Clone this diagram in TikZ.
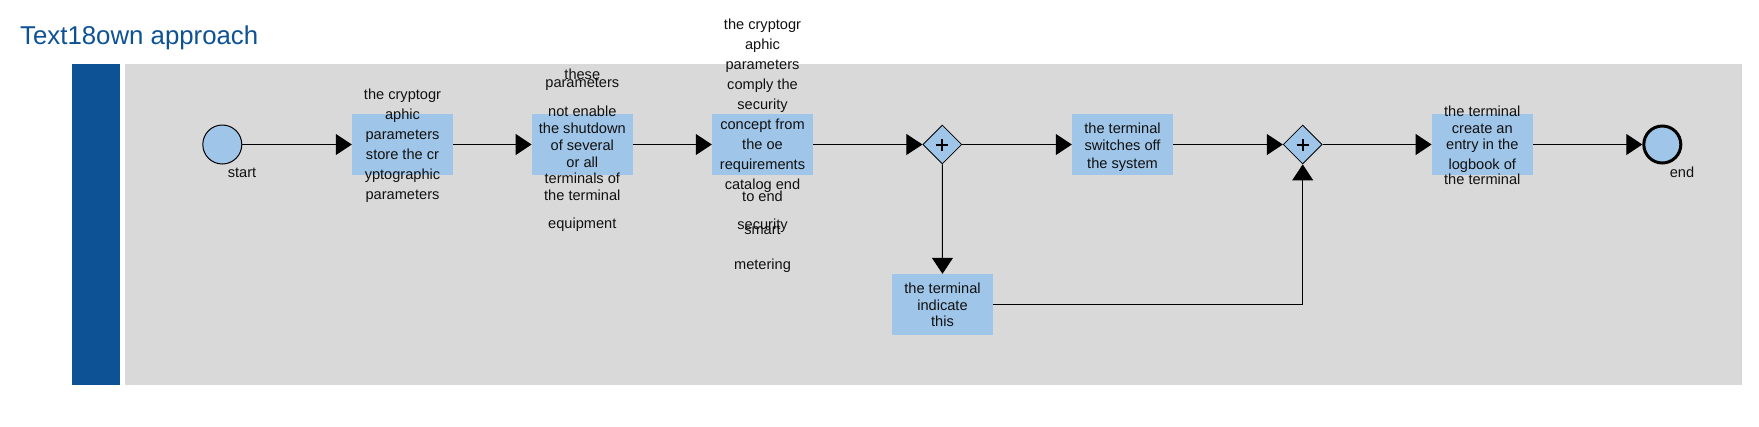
\documentclass[tikz,border=0pt]{standalone}
\usepackage{fontspec}
\setmainfont{Liberation Sans}
\usetikzlibrary{arrows.meta,shapes.geometric}
\definecolor{lane}{HTML}{D9D9D9}
\definecolor{bar}{HTML}{0D5294}
\definecolor{taskfill}{HTML}{9FC5E8}
\definecolor{titleblue}{HTML}{0D5294}
\definecolor{ink}{HTML}{111111}
\tikzset{
 task/.style={rectangle, fill=taskfill, minimum width=101pt, minimum height=61pt, inner sep=0pt},
 txt/.style={anchor=base, inner sep=0pt, font=\fontsize{14.6}{16}\selectfont, text=ink},
 evt/.style={circle, draw=black, fill=taskfill, inner sep=0pt},
 gw/.style={diamond, draw=black, fill=taskfill, minimum width=39pt, minimum height=39pt, inner sep=0pt, line width=0.8pt},
 flow/.style={draw=black, line width=1pt, -{Triangle[length=16pt,width=21pt]}},
 plusbar/.style={line width=2pt},
}
\begin{document}
\begin{tikzpicture}[x=1pt,y=-1pt]
\useasboundingbox (0,0) rectangle (1759,426);
\fill[white] (0,0) rectangle (1759,426);
\node[anchor=base west, inner sep=0pt, text=titleblue, font=\fontsize{25.8}{30}\selectfont] (title) at (20,44.5) {Text18own approach};
\fill[bar] (72,64) rectangle (120,385);
\fill[lane] (125,64) rectangle (1742,385);

% events
\node[evt, minimum size=39pt, line width=1pt] (start) at (222.3,144.5) {};
\node[evt, minimum size=37pt, line width=3pt] (end) at (1662.3,144.5) {};
\node[txt] (startlbl) at (242,177) {start};
\node[txt] (endlbl) at (1682,177) {end};

% tasks
\node[task] (t1) at (402.5,144.5) {};
\node[task] (t2) at (582.3,144.5) {};
\node[task] (t3) at (762.5,144.5) {};
\node[task] (t4) at (1122.5,144.5) {};
\node[task] (t5) at (942.5,304.5) {};
\node[task] (t6) at (1482.3,144.5) {};

% gateways
\node[gw] (g1) at (942.3,144.5) {};
\node[gw] (g2) at (1302.7,144.5) {};
\draw[plusbar] ([xshift=-6pt]g1.center) -- ([xshift=6pt]g1.center);
\draw[plusbar] ([yshift=-6pt]g1.center) -- ([yshift=6pt]g1.center);
\draw[plusbar] ([xshift=-6pt]g2.center) -- ([xshift=6pt]g2.center);
\draw[plusbar] ([yshift=-6pt]g2.center) -- ([yshift=6pt]g2.center);

% connectors
\draw[flow] (start) -- (t1);
\draw[flow] (t1) -- (t2);
\draw[flow] (t2) -- (t3);
\draw[flow] (t3) -- (g1.west);
\draw[flow] (g1.east) -- (t4);
\draw[flow] (t4) -- (g2.west);
\draw[flow] (g2.east) -- (t6);
\draw[flow] (t6) -- (end);
\draw[flow] (g1.south) -- (t5.north);
\draw[flow] (t5.east) -| (g2.south);

% task 1 text
\node[txt] (t1a) at (402.5,99) {the cryptogr};
\node[txt] (t1b) at (402.5,119) {aphic};
\node[txt] (t1c) at (402.5,139) {parameters};
\node[txt] (t1d) at (402.5,159) {store the cr};
\node[txt] (t1e) at (402.5,179) {yptographic};
\node[txt] (t1f) at (402.5,199) {parameters};

% task 2 text
\node[txt] (t2a) at (582.3,79) {these};
\node[txt] (t2b) at (582.3,87) {parameters};
\node[txt] (t2c) at (582.3,116) {not enable};
\node[txt] (t2d) at (582.3,133) {the shutdown};
\node[txt] (t2e) at (582.3,150) {of several};
\node[txt] (t2f) at (582.3,167) {or all};
\node[txt] (t2g) at (582.3,183.5) {terminals of};
\node[txt] (t2h) at (582.3,200) {the terminal};
\node[txt] (t2i) at (582.3,228.5) {equipment};

% task 3 text
\node[txt] (t3a) at (762.5,29) {the cryptogr};
\node[txt] (t3b) at (762.5,49) {aphic};
\node[txt] (t3c) at (762.5,69) {parameters};
\node[txt] (t3d) at (762.5,89) {comply the};
\node[txt] (t3e) at (762.5,109) {security};
\node[txt] (t3f) at (762.5,129) {concept from};
\node[txt] (t3g) at (762.5,149.5) {the oe};
\node[txt] (t3h) at (762.5,169) {requirements};
\node[txt] (t3i) at (762.5,189) {catalog end};
\node[txt] (t3j) at (762.5,201) {to end};
\node[txt] (t3k) at (762.5,229) {security};
\node[txt] (t3l) at (762.5,234.5) {smart};
\node[txt] (t3m) at (762.5,269) {metering};

% task 4 text
\node[txt] (t4a) at (1122.5,133.3) {the terminal};
\node[txt] (t4b) at (1122.5,150) {switches off};
\node[txt] (t4c) at (1122.5,168.7) {the system};

% task 5 text
\node[txt] (t5a) at (942.5,293.3) {the terminal};
\node[txt] (t5b) at (942.5,310) {indicate};
\node[txt] (t5c) at (942.5,326.7) {this};

% task 6 text
\node[txt] (t6a) at (1482.3,116) {the terminal};
\node[txt] (t6b) at (1482.3,133.3) {create an};
\node[txt] (t6c) at (1482.3,149) {entry in the};
\node[txt] (t6d) at (1482.3,169) {logbook of};
\node[txt] (t6e) at (1482.3,184) {the terminal};
\end{tikzpicture}
\end{document}
